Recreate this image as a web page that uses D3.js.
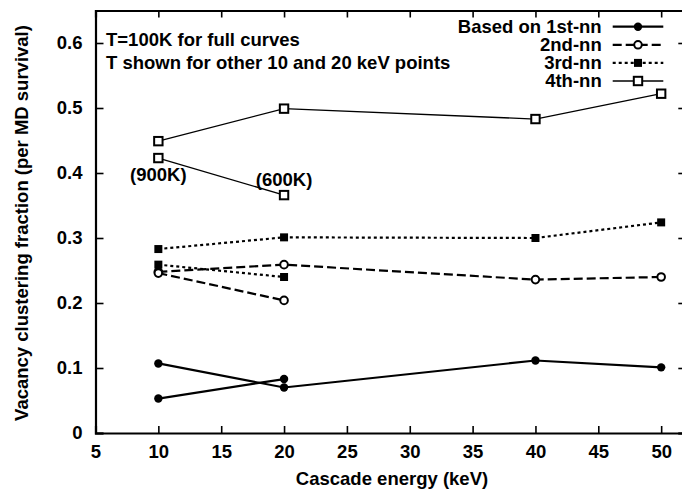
<!DOCTYPE html>
<html>
<head>
<meta charset="utf-8">
<script src="https://cdn.jsdelivr.net/npm/d3@7"></script>
<style>
  body { margin: 0; background: #fff; }
  svg text { font-family: "Liberation Sans", Arial, Helvetica, sans-serif; font-weight: bold; font-size: 18.5px; fill: #000; }
</style>
</head>
<body>
<svg id="chart" width="682" height="489"></svg>
<script>
// data
const energies = [10, 20, 40, 50];          // T=100K full curves
const nn1Full = [0.107, 0.070, 0.1115, 0.101];
const nn2Full = [0.248, 0.259, 0.236, 0.240];
const nn3Full = [0.283, 0.301, 0.300, 0.324];
const nn4Full = [0.449, 0.499, 0.483, 0.522];

const otherEnergies = [10, 20];             // higher T points
const nn1Other = [0.053, 0.083];
const nn2Other = [0.246, 0.204];
const nn3Other = [0.259, 0.240];
const nn4Other = [0.423, 0.366];
const tempLabels = ['(900K)', '(600K)'];

const xTicks = [5, 10, 15, 20, 25, 30, 35, 40, 45, 50];
const yTicks = [0, 0.1, 0.2, 0.3, 0.4, 0.5, 0.6];
const legendNames = ['Based on 1st-nn', '2nd-nn', '3rd-nn', '4th-nn'];
const notes = ['T=100K for full curves', 'T shown for other 10 and 20 keV points'];

const svg = d3.select('#chart');
const x = d3.scaleLinear().domain([5, 52]).range([95.5, 686.3]);
const y = d3.scaleLinear().domain([0, 0.65]).range([433, 10.5]);

// series styles
const series = [
  { full: nn1Full, other: nn1Other, dash: null, width: 2.2, mark: 'circle', fill: true },
  { full: nn2Full, other: nn2Other, dash: '9,4', width: 2.2, mark: 'circle', fill: false },
  { full: nn3Full, other: nn3Other, dash: '3,3', width: 2.2, mark: 'square', fill: true },
  { full: nn4Full, other: nn4Other, dash: null, width: 1.3, mark: 'square', fill: false }
];

// axes, ticks pointing inward
const ax = svg.append('g');
ax.append('g').attr('transform', 'translate(0,' + y(0) + ')')
  .call(d3.axisBottom(x).tickValues(xTicks).tickSize(-7).tickPadding(12).tickFormat(d3.format('d')));
ax.append('g').attr('transform', 'translate(' + x(5) + ',0)')
  .call(d3.axisLeft(y).tickValues(yTicks).tickSize(-8).tickPadding(13).tickFormat(d => d === 0 ? '0' : d3.format('.1f')(d)));
ax.append('g').attr('transform', 'translate(0,' + y(0.65) + ')')
  .call(d3.axisTop(x).tickValues(xTicks).tickSize(-7).tickFormat(''));
ax.append('g').attr('transform', 'translate(' + x(52) + ',0)')
  .call(d3.axisRight(y).tickValues(yTicks).tickSize(-8).tickFormat(''));
ax.selectAll('.domain').attr('stroke', '#000').attr('stroke-width', 2.2);
ax.selectAll('.tick line').attr('stroke', '#000').attr('stroke-width', 1.6);
ax.selectAll('.tick text').attr('font-size', null).attr('font-family', null);

// axis titles
svg.append('text').attr('x', 392).attr('y', 485).attr('text-anchor', 'middle')
  .text('Cascade energy (keV)');
svg.append('text').attr('transform', 'translate(28,223) rotate(-90)').attr('text-anchor', 'middle')
  .text('Vacancy clustering fraction (per MD survival)');

function drawMarker(g, s, cx, cy) {
  if (s.mark === 'circle') {
    g.append('circle').attr('cx', cx).attr('cy', cy).attr('r', s.fill ? 4.2 : 3.8)
      .attr('fill', s.fill ? '#000' : '#fff').attr('stroke', '#000').attr('stroke-width', s.fill ? 0 : 2);
  } else {
    const h = s.fill ? 4 : 4.2;
    g.append('rect').attr('x', cx - h).attr('y', cy - h).attr('width', 2 * h).attr('height', 2 * h)
      .attr('fill', s.fill ? '#000' : '#fff').attr('stroke', '#000').attr('stroke-width', s.fill ? 0 : 2);
  }
}

const line = d3.line().x(d => x(d[0])).y(d => y(d[1]));
const plot = svg.append('g');

series.forEach(s => {
  [d3.zip(energies, s.full), d3.zip(otherEnergies, s.other)].forEach(pts => {
    plot.append('path').datum(pts).attr('d', line)
      .attr('fill', 'none').attr('stroke', '#000').attr('stroke-width', s.width)
      .attr('stroke-dasharray', s.dash);
  });
});
series.forEach(s => {
  energies.forEach((e, i) => drawMarker(plot, s, x(e), y(s.full[i])));
  otherEnergies.forEach((e, i) => drawMarker(plot, s, x(e), y(s.other[i])));
});

// temperature labels for 4th-nn
plot.append('text').attr('x', x(otherEnergies[0])).attr('y', y(nn4Other[0]) + 16).attr('dy', '0.35em')
  .attr('text-anchor', 'middle').text(tempLabels[0]);
plot.append('text').attr('x', x(otherEnergies[1])).attr('y', y(nn4Other[1]) - 16).attr('dy', '0.35em')
  .attr('text-anchor', 'middle').text(tempLabels[1]);

// notes top left
notes.forEach((t, i) => {
  svg.append('text').attr('x', 106).attr('y', 40 + i * 22.5).attr('dy', '0.35em').text(t);
});

// legend
const leg = svg.append('g');
legendNames.forEach((name, i) => {
  const ly = 26.7 + i * 18.1;
  const s = series[i];
  leg.append('text').attr('x', 601.7).attr('y', ly).attr('dy', '0.35em').attr('text-anchor', 'end').text(name);
  leg.append('line').attr('x1', 612.7).attr('x2', 663.3).attr('y1', ly).attr('y2', ly)
    .attr('stroke', '#000').attr('stroke-width', s.width).attr('stroke-dasharray', s.dash);
  drawMarker(leg, s, 638, ly);
});
</script>
</body>
</html>
